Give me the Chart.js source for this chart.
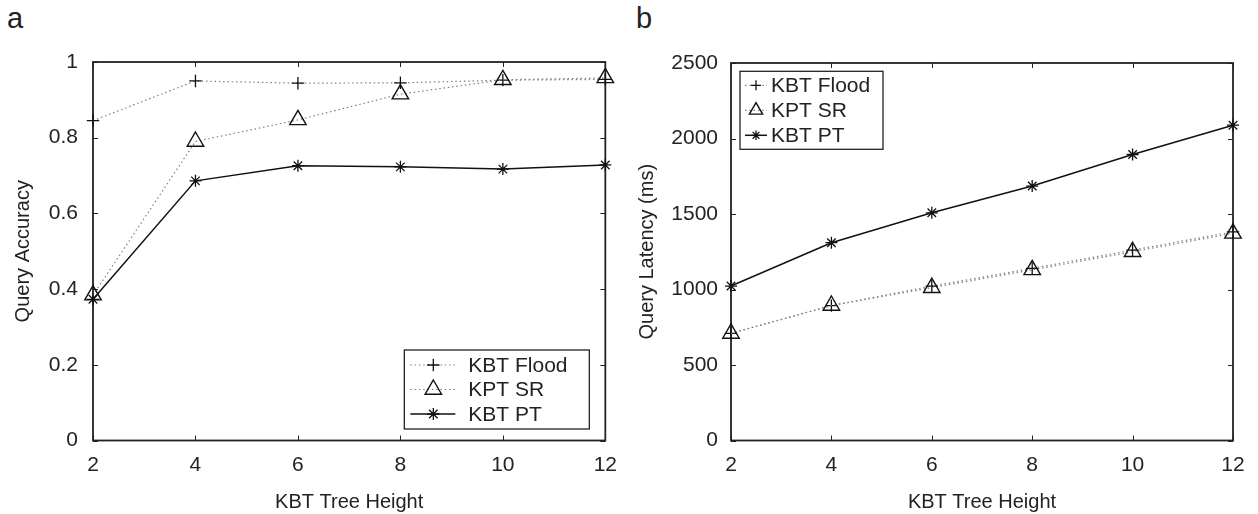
<!DOCTYPE html>
<html><head><meta charset="utf-8">
<script src="https://cdn.jsdelivr.net/npm/chart.js@4.4.0/dist/chart.umd.min.js"></script>
<style>
html,body{margin:0;padding:0;background:#fff;}
#wrap{position:relative;width:1258px;height:514px;overflow:hidden;background:#fff;}
canvas{position:absolute;top:0;}
.lab{position:absolute;font-family:'Liberation Sans',Arial,Helvetica,sans-serif;font-size:29px;line-height:1;color:#222;}
</style></head><body>
<div id="wrap">
<div class="lab" style="left:7px;top:4px">a</div>
<div class="lab" style="left:636px;top:4px">b</div>
<canvas id="c1" width="629" height="514" style="left:0"></canvas>
<canvas id="c2" width="629" height="514" style="left:629px"></canvas>
</div>
<script>
// ---- data ----
const treeHeights = [2, 4, 6, 8, 10, 12];
const xTickLabels = ['2', '4', '6', '8', '10', '12'];
const seriesNames = ['KBT Flood', 'KPT SR', 'KBT PT'];

const accFlood = [0.845, 0.950, 0.944, 0.945, 0.952, 0.954];
const accSR    = [0.384, 0.790, 0.847, 0.915, 0.953, 0.958];
const accPT    = [0.373, 0.686, 0.726, 0.723, 0.717, 0.728];
const accTickVals   = [0, 0.2, 0.4, 0.6, 0.8, 1];
const accTickLabels = ['0', '0.2', '0.4', '0.6', '0.8', '1'];

const latFlood = [710, 893, 1023, 1140, 1261, 1382];
const latSR    = [709, 894, 1012, 1130, 1250, 1372];
const latPT    = [1023, 1310, 1508, 1685, 1894, 2088];
const latTickVals   = [0, 500, 1000, 1500, 2000, 2500];
const latTickLabels = ['0', '500', '1000', '1500', '2000', '2500'];

const xTitle = 'KBT Tree Height';
const yTitleA = 'Query Accuracy';
const yTitleB = 'Query Latency (ms)';

// ---- styling ----
const FONT = "'Liberation Sans', Arial, Helvetica, sans-serif";
const INK = '#222';
Chart.defaults.font.family = FONT;
Chart.defaults.color = INK;

function pts(ys) { return treeHeights.map((x, i) => ({x: x, y: ys[i]})); }

function makeDatasets(f, s, p) {
  return [
    {label: seriesNames[0], data: pts(f), borderColor: '#808080', borderWidth: 1.2, borderDash: [1.5, 2.8],
     pointStyle: 'cross', pointRadius: 6.2, pointBorderColor: '#111', pointBorderWidth: 1.3,
     pointBackgroundColor: 'rgba(0,0,0,0)', clip: false, order: 2},
    {label: seriesNames[1], data: pts(s), borderColor: '#808080', borderWidth: 1.2, borderDash: [1.5, 2.8],
     pointStyle: 'triangle', pointRadius: 9.5, pointBorderColor: '#111', pointBorderWidth: 1.4,
     pointBackgroundColor: 'rgba(0,0,0,0)', clip: false, order: 1},
    {label: seriesNames[2], data: pts(p), borderColor: '#111', borderWidth: 1.5,
     pointStyle: 'star', pointRadius: 6, pointBorderColor: '#111', pointBorderWidth: 1.3,
     pointBackgroundColor: 'rgba(0,0,0,0)', clip: false, order: 0}
  ];
}

const framePlugin = {
  id: 'frame',
  beforeDatasetsDraw(chart) {
    const {ctx, chartArea: a} = chart;
    const xs = chart.scales.x, ys = chart.scales.y;
    ctx.save();
    ctx.strokeStyle = INK; ctx.lineWidth = 1;
    ctx.beginPath();
    xs.ticks.forEach(t => {
      const px = Math.round(xs.getPixelForValue(t.value)) + 0.5;
      ctx.moveTo(px, a.bottom); ctx.lineTo(px, a.bottom - 5);
      ctx.moveTo(px, a.top); ctx.lineTo(px, a.top + 5);
    });
    ys.ticks.forEach(t => {
      const py = Math.round(ys.getPixelForValue(t.value)) + 0.5;
      ctx.moveTo(a.left, py); ctx.lineTo(a.left + 5, py);
      ctx.moveTo(a.right, py); ctx.lineTo(a.right - 5, py);
    });
    ctx.stroke();
    ctx.lineWidth = 1.8;
    ctx.strokeRect(a.left, a.top, a.right - a.left, a.bottom - a.top);
    ctx.restore();
  }
};

const legendPlugin = {
  id: 'boxLegend',
  afterDraw(chart, args, o) {
    const {ctx, chartArea: a} = chart;
    const bx = o.anchor === 'br' ? a.right - o.dx - o.w : a.left + o.dx;
    const by = o.anchor === 'br' ? a.bottom - o.dy - o.h : a.top + o.dy;
    ctx.save();
    ctx.fillStyle = '#fff';
    ctx.fillRect(bx, by, o.w, o.h);
    ctx.strokeStyle = INK; ctx.lineWidth = 1.3;
    ctx.strokeRect(bx, by, o.w, o.h);
    chart.data.datasets.forEach((ds, i) => {
      const cy = by + o.rowTop + i * o.rowGap;
      ctx.save();
      ctx.strokeStyle = ds.borderColor; ctx.lineWidth = ds.borderWidth;
      ctx.setLineDash(ds.borderDash || []);
      ctx.beginPath(); ctx.moveTo(bx + o.lineX0, cy); ctx.lineTo(bx + o.lineX1, cy); ctx.stroke();
      ctx.restore();
      ctx.save();
      ctx.strokeStyle = '#111'; ctx.fillStyle = 'rgba(0,0,0,0)'; ctx.lineWidth = ds.pointBorderWidth;
      Chart.helpers.drawPoint(ctx, {pointStyle: ds.pointStyle, radius: ds.pointRadius * o.markScale, rotation: 0, borderWidth: ds.pointBorderWidth}, bx + o.markX, cy);
      ctx.restore();
      ctx.fillStyle = INK; ctx.font = o.fontSize + 'px ' + FONT;
      ctx.textBaseline = 'middle'; ctx.textAlign = 'left';
      ctx.fillText(ds.label, bx + o.textX, cy + 1);
    });
    ctx.restore();
  }
};

function makeChart(id, datasets, yVals, yLabels, yMax, yTitle, geom, legend) {
  return new Chart(document.getElementById(id), {
    type: 'line',
    data: {datasets: datasets},
    plugins: [framePlugin, legendPlugin],
    options: {
      responsive: false, animation: false, devicePixelRatio: 1,
      layout: {padding: {left: 0, top: geom.top, right: geom.right, bottom: 0}},
      plugins: {legend: {display: false}, tooltip: {enabled: false}, boxLegend: legend},
      scales: {
        x: {
          type: 'linear', min: 2, max: 12,
          afterBuildTicks: s => { s.ticks = treeHeights.map(v => ({value: v})); },
          afterFit: s => { s.height = geom.xh; },
          ticks: {padding: 12, font: {size: 21}, color: INK, callback: (v, i) => xTickLabels[i]},
          grid: {display: false, drawTicks: false},
          border: {display: false},
          title: {display: true, text: xTitle, font: {size: 20}, color: INK, padding: {top: 0, bottom: 0}}
        },
        y: {
          type: 'linear', min: 0, max: yMax,
          afterBuildTicks: s => { s.ticks = yVals.map(v => ({value: v})); },
          afterFit: s => { s.width = geom.yw; },
          ticks: {padding: geom.ypad, font: {size: 21}, color: INK, callback: (v, i) => yLabels[i]},
          grid: {display: false, drawTicks: false},
          border: {display: false},
          title: {display: true, text: yTitle, font: {size: 20}, color: INK, padding: {top: geom.ytp, bottom: geom.ytp}}
        }
      }
    }
  });
}

makeChart('c1', makeDatasets(accFlood, accSR, accPT), accTickVals, accTickLabels, 1, yTitleA,
  {top: 62, right: 21, xh: 73.5, yw: 93, ypad: 15, ytp: 11},
  {anchor: 'br', dx: 16, dy: 11.5, w: 185, h: 79, rowTop: 15, rowGap: 24.5,
   lineX0: 6, lineX1: 51, markX: 29, textX: 64, markScale: 1, fontSize: 21});

makeChart('c2', makeDatasets(latFlood, latSR, latPT), latTickVals, latTickLabels, 2500, yTitleB,
  {top: 63, right: 25, xh: 73.5, yw: 102, ypad: 13, ytp: 6},
  {anchor: 'tl', dx: 9, dy: 8.3, w: 143, h: 78, rowTop: 14, rowGap: 25,
   lineX0: 5, lineX1: 27, markX: 16, textX: 31, markScale: 0.8, fontSize: 21});
</script>
</body></html>
